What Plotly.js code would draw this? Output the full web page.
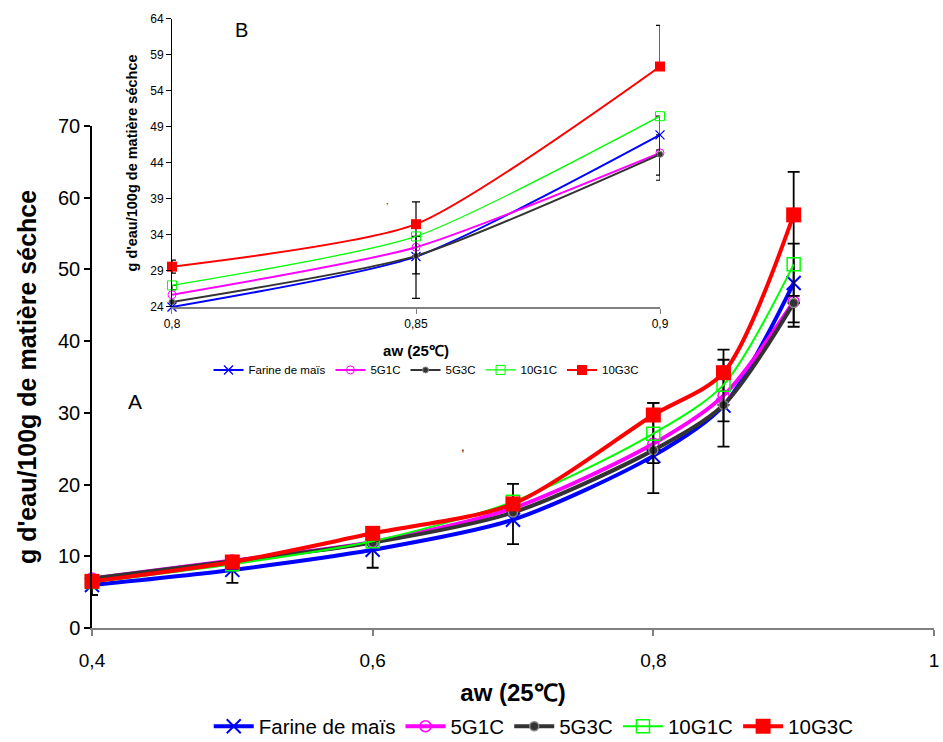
<!DOCTYPE html>
<html>
<head>
<meta charset="utf-8">
<script src="https://cdn.plot.ly/plotly-3.0.1.min.js"></script>
<style>html,body{margin:0;padding:0;background:#fff}#chart{width:943px;height:742px}</style>
</head>
<body>
<div id="chart"></div>
<script>
// ---- data ----
const aw = [0.4, 0.5, 0.6, 0.7, 0.8, 0.85, 0.9];
const seriesNames = ["Farine de maïs", "5G1C", "5G3C", "10G1C", "10G3C"];
const farine = [6.0, 8.1, 10.9, 15.1, 24.0, 31.0, 48.1];
const g5g1c  = [6.9, 9.4, 12.0, 16.7, 25.7, 32.4, 45.5];
const g5g3c  = [6.9, 9.3, 11.9, 16.1, 24.8, 31.1, 45.3];
const g10g1c = [6.4, 8.9, 12.1, 17.6, 27.1, 33.9, 50.7];
const g10g3c = [6.5, 9.2, 13.2, 17.3, 29.7, 35.6, 57.6];

// error bars, main chart (A)
const farineErrPlus  = [1.4, 1.7, 2.4, 5.0, 7.4, 6.4, 5.5];
const farineErrMinus = [1.4, 1.8, 2.5, 3.4, 5.2, 5.7, 5.5];
const g10g1cErrPlus  = [null, null, null, null, 4.3, 4.9, 12.9];
const g10g1cErrMinus = [null, null, null, null, 4.1, 5.1, 4.4];
const g5g3cErrPlus   = [null, null, null, null, null, null, 0];
const g5g3cErrMinus  = [null, null, null, null, null, null, 3.3];

// inset (B)
const awInset = [0.8, 0.85, 0.9];
const farineInset = [24.0, 31.0, 47.9];
const g5g1cInset  = [25.7, 32.3, 45.4];
const g5g3cInset  = [24.7, 31.1, 45.2];
const g10g1cInset = [27.0, 33.8, 50.5];
const g10g3cInset = [29.6, 35.5, 57.4];
const farineInsetErrPlus  = [null, 7.6, 0];
const farineInsetErrMinus = [null, 5.8, 5.6];
const g10g1cInsetErrPlus  = [0, 0, 0];
const g10g1cInsetErrMinus = [0.6, 5.2, 4.7];
const g10g3cInsetErrPlus  = [0.9, 0, 5.7];
const g10g3cInsetErrMinus = [0.9, 0, 0];
const g5g3cInsetErrPlus   = [null, null, 0];
const g5g3cInsetErrMinus  = [null, null, 3.6];

// ---- styles ----
const SANS = "Liberation Sans, Arial, sans-serif";
const colors = ["#0000FF", "#FF00FF", "#333333", "#00FF00", "#FF0000"];
const mainWidths = [4, 4, 4, 2, 4];
const insetWidths = [2, 2, 2, 1.3, 2];
const mainMarkers = [
  {symbol: "x-thin-open", size: 14, color: colors[0], line: {color: colors[0], width: 2}},
  {symbol: "circle-open", size: 11, color: colors[1], line: {color: colors[1], width: 1.5}},
  {symbol: "circle", size: 9, color: "#333333", line: {color: "#888888", width: 1.5}},
  {symbol: "square-open", size: 13, color: colors[3], line: {color: colors[3], width: 1.5}},
  {symbol: "square", size: 15, color: colors[4], line: {color: colors[4], width: 0}}
];
const insetMarkers = [
  {symbol: "x-thin-open", size: 9, color: colors[0], line: {color: colors[0], width: 1.3}},
  {symbol: "circle-open", size: 8, color: colors[1], line: {color: colors[1], width: 1}},
  {symbol: "circle", size: 6, color: "#333333", line: {color: "#888888", width: 1}},
  {symbol: "square-open", size: 9, color: colors[3], line: {color: colors[3], width: 1}},
  {symbol: "square", size: 10, color: colors[4], line: {color: colors[4], width: 0}}
];

const mainY = [farine, g5g1c, g5g3c, g10g1c, g10g3c];
const mainErr = [
  [farineErrPlus, farineErrMinus], null, [g5g3cErrPlus, g5g3cErrMinus], [g10g1cErrPlus, g10g1cErrMinus], null
];
const insetY = [farineInset, g5g1cInset, g5g3cInset, g10g1cInset, g10g3cInset];
const insetErr = [
  [farineInsetErrPlus, farineInsetErrMinus], null, [g5g3cInsetErrPlus, g5g3cInsetErrMinus],
  [g10g1cInsetErrPlus, g10g1cInsetErrMinus], [g10g3cInsetErrPlus, g10g3cInsetErrMinus]
];

function errObj(e, thick, w) {
  if (!e) return {visible: false};
  return {type: "data", symmetric: false, array: e[0], arrayminus: e[1],
          color: "#000000", thickness: thick, width: w, visible: true};
}

const traces = [];
for (let i = 0; i < 5; i++) {
  traces.push({
    x: aw, y: mainY[i], name: seriesNames[i], type: "scatter", mode: "lines+markers",
    xaxis: "x", yaxis: "y", legend: "legend",
    line: {color: colors[i], width: mainWidths[i], shape: "spline", smoothing: 0.8},
    marker: mainMarkers[i], cliponaxis: false,
    error_y: errObj(mainErr[i], 1.8, 6)
  });
}
for (let i = 0; i < 5; i++) {
  traces.push({
    x: awInset, y: insetY[i], name: seriesNames[i], type: "scatter", mode: "lines+markers",
    xaxis: "x2", yaxis: "y2", legend: "legend2",
    line: {color: colors[i], width: insetWidths[i], shape: "spline", smoothing: 0.6},
    marker: insetMarkers[i], cliponaxis: false,
    error_y: errObj(insetErr[i], 1.2, 4)
  });
}

const layout = {
  width: 943, height: 742,
  paper_bgcolor: "#ffffff", plot_bgcolor: "rgba(0,0,0,0)",
  separators: ", ",
  margin: {l: 92, r: 9, t: 15, b: 114, autoexpand: false},
  showlegend: true,
  xaxis: {
    domain: [0, 1], range: [0.4, 1], tick0: 0.4, dtick: 0.2,
    showgrid: false, zeroline: false, showline: true, linecolor: "#808080", linewidth: 2,
    ticks: "outside", ticklen: 6, tickcolor: "#808080", tickwidth: 1.5, ticklabelstandoff: 8,
    ticklabeloverflow: "allow",
    tickfont: {family: SANS, size: 19, color: "#000"},
    title: {text: "<b>aw (25℃)</b>", font: {family: SANS, size: 24, color: "#000"}, standoff: 22}
  },
  yaxis: {
    domain: [0, 0.819], range: [0, 70], tick0: 0, dtick: 10,
    showgrid: false, zeroline: false, showline: true, linecolor: "#000", linewidth: 1.5,
    ticks: "outside", ticklen: 6, tickcolor: "#000", tickwidth: 1.5,
    tickfont: {family: SANS, size: 20, color: "#000"},
    title: {text: "<b>g d'eau/100g de matière séchce</b>", font: {family: SANS, size: 25, color: "#000"}, standoff: 14}
  },
  xaxis2: {
    domain: [0.095, 0.6746], anchor: "y2", range: [0.8, 0.9], tick0: 0.8, dtick: 0.05,
    showgrid: false, zeroline: false, showline: true, linecolor: "#808080", linewidth: 1.5,
    ticks: "outside", ticklen: 5, tickcolor: "#808080", tickwidth: 1,
    tickfont: {family: SANS, size: 12, color: "#000"},
    title: {text: "<b>aw (25℃)</b>", font: {family: SANS, size: 15, color: "#000"}, standoff: 15}
  },
  yaxis2: {
    domain: [0.5237, 0.9935], anchor: "x2", range: [24, 64], tick0: 24, dtick: 5,
    showgrid: false, zeroline: false, showline: true, linecolor: "#000", linewidth: 1,
    ticks: "outside", ticklen: 5, tickcolor: "#000", tickwidth: 1,
    tickfont: {family: SANS, size: 12, color: "#000"},
    title: {text: "<b>g d'eau/100g de matière séchce</b>", font: {family: SANS, size: 14.5, color: "#000"}, standoff: 9}
  },
  legend: {
    orientation: "h", xref: "container", yref: "container",
    x: 0.566, xanchor: "center", y: 0.021, yanchor: "middle",
    font: {family: SANS, size: 20.5, color: "#000"}, bgcolor: "rgba(0,0,0,0)",
    itemwidth: 40, tracegroupgap: 0
  },
  legend2: {
    orientation: "h", x: 0.3967, xanchor: "center", y: 0.421, yanchor: "middle",
    font: {family: SANS, size: 11.5, color: "#000"}, bgcolor: "rgba(0,0,0,0)",
    itemwidth: 30
  },
  annotations: [
    {text: "A", xref: "paper", yref: "paper", x: 0.0511, y: 0.3687, showarrow: false,
     xanchor: "center", yanchor: "middle", font: {family: SANS, size: 21, color: "#000"}},
    {text: "B", xref: "paper", yref: "paper", x: 0.177, y: 0.9755, showarrow: false,
     xanchor: "center", yanchor: "middle", font: {family: SANS, size: 20, color: "#000"}},
    {text: ",", xref: "paper", yref: "paper", x: 0.4406, y: 0.296, showarrow: false,
     xanchor: "center", yanchor: "middle", font: {family: SANS, size: 13, color: "#000"}},
    {text: ",", xref: "paper", yref: "paper", x: 0.3504, y: 0.697, showarrow: false,
     xanchor: "center", yanchor: "middle", font: {family: SANS, size: 9, color: "#000"}}
  ]
};

Plotly.newPlot("chart", traces, layout, {displayModeBar: false, responsive: false});
</script>
</body>
</html>
